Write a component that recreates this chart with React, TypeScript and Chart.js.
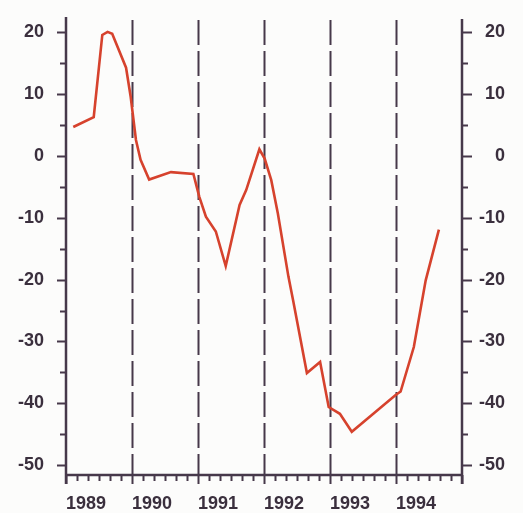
import React, { useEffect, useRef } from 'react';
import { Chart, registerables } from 'chart.js';

Chart.register(...registerables);

// Time (decimal years) and values of the series
const dates = [
  1989.11, 1989.42, 1989.55, 1989.63, 1989.7, 1989.91, 1989.98, 1990.06, 1990.13, 1990.26,
  1990.59, 1990.93, 1991.02, 1991.12, 1991.27, 1991.42, 1991.63, 1991.73, 1991.93, 1992.01,
  1992.11, 1992.21, 1992.37, 1992.44, 1992.65, 1992.85, 1992.98, 1993.15, 1993.33, 1993.99,
  1994.07, 1994.27, 1994.45, 1994.65,
];
const values = [
  4.7, 6.3, 19.6, 20.1, 19.8, 14.3, 9.6, 2.6, -0.6, -3.8,
  -2.6, -2.9, -6.6, -9.8, -12.2, -17.8, -7.9, -5.5, 1.1, -0.4,
  -3.9, -9.3, -19.5, -23.3, -35.1, -33.3, -40.6, -41.7, -44.6, -38.7,
  -38.1, -30.9, -20.1, -11.9,
];

const yearTicks = [1989, 1990, 1991, 1992, 1993, 1994, 1995];
const yearLabels = ['1989', '1990', '1991', '1992', '1993', '1994', ''];
const dashedYears = [1990, 1991, 1992, 1993, 1994];
const yMajorTicks = [-50, -40, -30, -20, -10, 0, 10, 20];
const yMinorTicks = [-45, -35, -25, -15, -5, 5, 15];
const xMinorStep = 1 / 6;

const Y_MIN = -51.6;
const Y_MAX = 22.5;

const INK = '#46384a';
const TEXT = '#3a2f3d';
const RED = '#d6422d';

const decoPlugin = {
  id: 'deco',
  beforeDraw(chart: any) {
    const ctx = chart.ctx;
    ctx.save();
    ctx.fillStyle = '#fcfcfb';
    ctx.fillRect(0, 0, chart.width, chart.height);
    ctx.restore();
  },
  beforeDatasetsDraw(chart: any) {
    const { ctx, chartArea, scales } = chart;
    const x = scales.x;
    ctx.save();
    ctx.strokeStyle = INK;
    ctx.lineWidth = 2;
    ctx.setLineDash([25, 6]);
    dashedYears.forEach((yr) => {
      const px = Math.round(x.getPixelForValue(yr)) + 0.5;
      ctx.beginPath();
      ctx.moveTo(px, chartArea.top + 3);
      ctx.lineTo(px, chartArea.bottom);
      ctx.stroke();
    });
    ctx.restore();
  },
  afterDatasetsDraw(chart: any) {
    const { ctx, chartArea, scales } = chart;
    const x = scales.x;
    const y = scales.y;
    const L = chartArea.left;
    const R = chartArea.right;
    const B = chartArea.bottom;
    const T = chartArea.top;
    ctx.save();
    ctx.strokeStyle = INK;
    ctx.setLineDash([]);
    ctx.lineCap = 'butt';
    // axis lines
    ctx.lineWidth = 2.5;
    ctx.beginPath();
    ctx.moveTo(L, T);
    ctx.lineTo(L, B + 9);
    ctx.moveTo(R, T + 2);
    ctx.lineTo(R, B + 9);
    ctx.moveTo(L, B);
    ctx.lineTo(R, B);
    ctx.stroke();
    // y ticks
    ctx.lineWidth = 2;
    ctx.beginPath();
    yMajorTicks.forEach((v) => {
      const py = Math.round(y.getPixelForValue(v)) + 0.5;
      ctx.moveTo(L - 9, py);
      ctx.lineTo(L, py);
      ctx.moveTo(R, py);
      ctx.lineTo(R + 10, py);
    });
    yMinorTicks.forEach((v) => {
      const py = Math.round(y.getPixelForValue(v)) + 0.5;
      ctx.moveTo(L - 6, py);
      ctx.lineTo(L, py);
      ctx.moveTo(R, py);
      ctx.lineTo(R + 6, py);
    });
    ctx.stroke();
    // x ticks
    ctx.beginPath();
    yearTicks.forEach((yr, i) => {
      const px = Math.round(x.getPixelForValue(yr)) + 0.5;
      ctx.moveTo(px, B);
      ctx.lineTo(px, B + 9);
      if (i < yearTicks.length - 1) {
        for (let k = 1; k < 6; k++) {
          const mx = Math.round(x.getPixelForValue(yr + k * xMinorStep)) + 0.5;
          ctx.moveTo(mx, B);
          ctx.lineTo(mx, B + 6);
        }
      }
    });
    ctx.stroke();
    ctx.restore();
  },
};

const tickFont = { family: '"Liberation Sans", Arial, sans-serif', size: 18, weight: 'bold' as const };

const noPad = (scale: any) => {
  scale.paddingTop = 0;
  scale.paddingBottom = 0;
  scale.paddingLeft = 0;
  scale.paddingRight = 0;
};

export default function App() {
  const canvasRef = useRef<HTMLCanvasElement | null>(null);

  useEffect(() => {
    if (!canvasRef.current) return;
    const chart = new Chart(canvasRef.current, {
      type: 'line',
      data: {
        datasets: [
          {
            data: dates.map((d, i) => ({ x: d, y: values[i] })),
            borderColor: RED,
            borderWidth: 2.6,
            pointRadius: 0,
            tension: 0,
            fill: false,
          },
        ],
      },
      options: {
        responsive: false,
        animation: false,
        layout: { padding: { top: 17, left: 0, right: 18, bottom: 0 } },
        plugins: { legend: { display: false }, tooltip: { enabled: false } },
        scales: {
          x: {
            type: 'linear',
            min: 1989,
            max: 1995,
            grid: { display: false, drawTicks: false },
            border: { display: false },
            afterBuildTicks: (scale: any) => {
              scale.ticks = yearTicks.map((v) => ({ value: v }));
            },
            afterFit: (scale: any) => {
              scale.height = 38;
              noPad(scale);
            },
            ticks: {
              autoSkip: false,
              maxRotation: 0,
              align: 'start',
              padding: 18,
              color: TEXT,
              font: tickFont,
              callback: (v: any, i: number) => yearLabels[i] ?? '',
            },
          },
          y: {
            type: 'linear',
            position: 'left',
            min: Y_MIN,
            max: Y_MAX,
            grid: { display: false, drawTicks: false },
            border: { display: false },
            afterBuildTicks: (scale: any) => {
              scale.ticks = yMajorTicks.map((v) => ({ value: v }));
            },
            afterFit: (scale: any) => {
              scale.width = 66;
              noPad(scale);
            },
            ticks: {
              padding: 22,
              color: TEXT,
              font: tickFont,
              callback: (v: any) => String(v),
            },
          },
          y2: {
            type: 'linear',
            position: 'right',
            min: Y_MIN,
            max: Y_MAX,
            grid: { display: false, drawTicks: false },
            border: { display: false },
            afterBuildTicks: (scale: any) => {
              scale.ticks = yMajorTicks.map((v) => ({ value: v }));
            },
            afterFit: (scale: any) => {
              scale.width = 43;
              noPad(scale);
            },
            ticks: {
              padding: 10,
              crossAlign: 'far',
              color: TEXT,
              font: tickFont,
              callback: (v: any) => String(v),
            },
          },
        },
      },
      plugins: [decoPlugin],
    } as any);
    return () => chart.destroy();
  }, []);

  return (
    <div style={{ position: 'absolute', left: 0, top: 0, width: 523, height: 513 }}>
      <canvas ref={canvasRef} width={523} height={513} style={{ display: 'block' }} />
    </div>
  );
}
